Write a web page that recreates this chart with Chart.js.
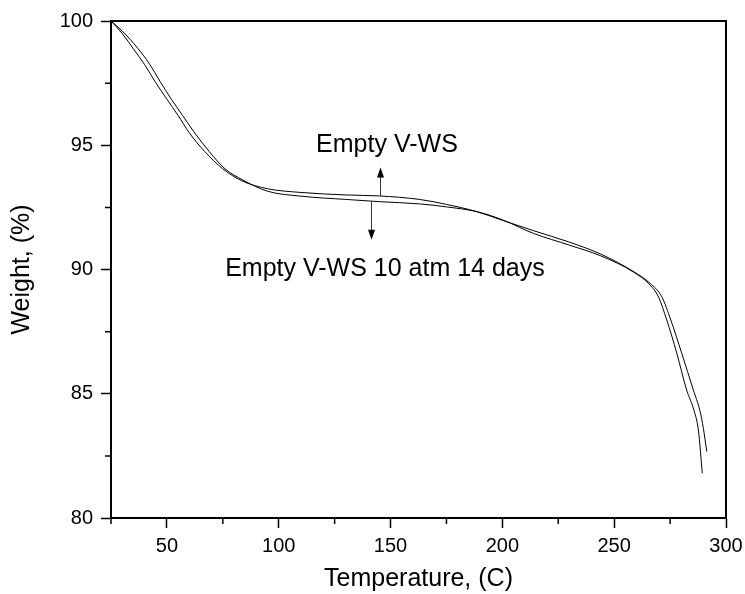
<!DOCTYPE html>
<html>
<head>
<meta charset="utf-8">
<script src="https://cdn.jsdelivr.net/npm/chart.js@4.4.0/dist/chart.umd.min.js"></script>
<style>
    html, body { margin: 0; padding: 0; background: #fff; }
</style>
</head>
<body>
<canvas id="tgaChart" width="745" height="594"></canvas>
<script>

    // Empty V-WS
    const tempEmpty = [25, 30, 35, 40, 45, 50, 55, 60, 67, 75, 84, 95, 110, 130, 145, 163, 175, 188.5, 200, 214, 230, 244, 258.6, 266, 271.3, 275.3, 280.2, 285.4, 288.4, 289.9, 291.4];
    const weightEmpty = [100, 99.5, 98.88, 98.25, 97.52, 96.85, 96.2, 95.5, 94.74, 94.05, 93.55, 93.25, 93.1, 93.0, 92.96, 92.82, 92.62, 92.33, 91.98, 91.56, 91.1, 90.62, 89.92, 89.45, 88.9, 87.97, 86.63, 85.15, 84.3, 83.6, 82.67];

    // Empty V-WS 10 atm 14 days
    const tempLoaded = [25, 30, 37, 42, 47, 52, 57, 62, 69, 76, 84, 95, 110, 130, 145, 163, 175, 188.5, 200, 214, 230, 244, 258.6, 266, 269.8, 273.5, 278, 282.4, 285.8, 287.7, 289.4];
    const weightLoaded = [100, 99.6, 98.9, 98.3, 97.56, 96.85, 96.2, 95.55, 94.74, 94.05, 93.6, 93.15, 92.95, 92.82, 92.73, 92.64, 92.52, 92.33, 92.0, 91.45, 90.98, 90.55, 89.9, 89.38, 88.9, 87.97, 86.63, 85.15, 84.3, 83.5, 81.8];

    const xTicks = [50, 100, 150, 200, 250, 300];
    const xMinor = [25, 75, 125, 175, 225, 275];
    const yTicks = [80, 85, 90, 95, 100];
    const yMinor = [82.5, 87.5, 92.5, 97.5];

    const labelEmpty = "Empty V-WS";
    const labelLoaded = "Empty V-WS 10 atm 14 days";

    const fontFamily = "'Liberation Sans', Arial, sans-serif";

    function toPoints(xs, ys) {
        return xs.map(function (x, i) { return { x: x, y: ys[i] } })
    }

    function arrow(ctx, x, y0, y1) {
        var dir = y1 < y0 ? 1 : -1
        ctx.beginPath()
        ctx.moveTo(x, y0)
        ctx.lineTo(x, y1 + dir * 8)
        ctx.stroke()
        ctx.beginPath()
        ctx.moveTo(x, y1)
        ctx.lineTo(x - 3.5, y1 + dir * 10)
        ctx.lineTo(x + 3.5, y1 + dir * 10)
        ctx.closePath()
        ctx.fill()
    }

    // frame, minor ticks and the two arrow labels
    const extras = {
        id: 'extras',
        afterDraw: function (chart) {
            var ctx = chart.ctx
            var a = chart.chartArea
            var sx = chart.scales.x
            var sy = chart.scales.y
            ctx.save()
            ctx.strokeStyle = '#000'
            ctx.fillStyle = '#000'
            ctx.lineWidth = 2
            ctx.strokeRect(a.left, a.top, a.right - a.left, a.bottom - a.top)

            ctx.lineWidth = 1.5
            ctx.beginPath()
            xMinor.forEach(function (v) {
                var px = sx.getPixelForValue(v)
                ctx.moveTo(px, a.bottom)
                ctx.lineTo(px, a.bottom + 6)
            })
            yMinor.forEach(function (v) {
                var py = sy.getPixelForValue(v)
                ctx.moveTo(a.left, py)
                ctx.lineTo(a.left - 6, py)
            })
            ctx.stroke()

            ctx.lineWidth = 1
            ctx.strokeStyle = '#333'
            arrow(ctx, Math.round(sx.getPixelForValue(145.3)) + 0.5, sy.getPixelForValue(92.96), sy.getPixelForValue(94.1))
            arrow(ctx, Math.round(sx.getPixelForValue(141.3)) + 0.5, sy.getPixelForValue(92.73), sy.getPixelForValue(91.2))

            ctx.font = '25px ' + fontFamily
            ctx.textAlign = 'center'
            ctx.textBaseline = 'middle'
            ctx.fillText(labelEmpty, sx.getPixelForValue(148.4), sy.getPixelForValue(95.0))
            ctx.fillText(labelLoaded, sx.getPixelForValue(147.5), sy.getPixelForValue(90.0))
            ctx.restore()
        }
    }

    var ctx = document.getElementById("tgaChart");

    new Chart(ctx, {
        type: 'line',
        data: {
            datasets: [{
                label: labelEmpty,
                data: toPoints(tempEmpty, weightEmpty),
                borderColor: '#000',
                borderWidth: 1,
                pointRadius: 0,
                cubicInterpolationMode: 'monotone'
            }, {
                label: labelLoaded,
                data: toPoints(tempLoaded, weightLoaded),
                borderColor: '#000',
                borderWidth: 1,
                pointRadius: 0,
                cubicInterpolationMode: 'monotone'
            }]
        },
        options: {
            responsive: false,
            animation: false,
            devicePixelRatio: 1,
            layout: {
                padding: { top: 21, right: 19, left: 0, bottom: 0 }
            },
            plugins: {
                legend: { display: false },
                tooltip: { enabled: false }
            },
            scales: {
                x: {
                    type: 'linear',
                    min: 25,
                    max: 300,
                    afterBuildTicks: function (scale) {
                        scale.ticks = xTicks.map(function (v) { return { value: v } })
                    },
                    afterFit: function (scale) {
                        scale.height = 76
                        scale.paddingLeft = 0
                        scale.paddingRight = 0
                    },
                    grid: {
                        drawOnChartArea: false,
                        color: '#000',
                        tickLength: 10,
                        tickWidth: 1.5
                    },
                    border: { color: '#000', width: 2 },
                    ticks: {
                        color: '#000',
                        padding: 6,
                        maxRotation: 0,
                        font: { family: fontFamily, size: 20 }
                    },
                    title: {
                        display: true,
                        text: 'Temperature, (C)',
                        color: '#000',
                        padding: { top: 0, bottom: 0 },
                        font: { family: fontFamily, size: 25 }
                    }
                },
                y: {
                    type: 'linear',
                    min: 80,
                    max: 100,
                    afterBuildTicks: function (scale) {
                        scale.ticks = yTicks.map(function (v) { return { value: v } })
                    },
                    afterFit: function (scale) {
                        scale.width = 111
                        scale.paddingTop = 0
                        scale.paddingBottom = 0
                    },
                    grid: {
                        drawOnChartArea: false,
                        color: '#000',
                        tickLength: 10,
                        tickWidth: 1.5
                    },
                    border: { color: '#000', width: 2 },
                    ticks: {
                        color: '#000',
                        padding: 8,
                        font: { family: fontFamily, size: 20 }
                    },
                    title: {
                        display: true,
                        text: 'Weight, (%)',
                        color: '#000',
                        padding: { top: 7, bottom: 0 },
                        font: { family: fontFamily, size: 25 }
                    }
                }
            }
        },
        plugins: [extras]
    })

</script>
</body>
</html>
